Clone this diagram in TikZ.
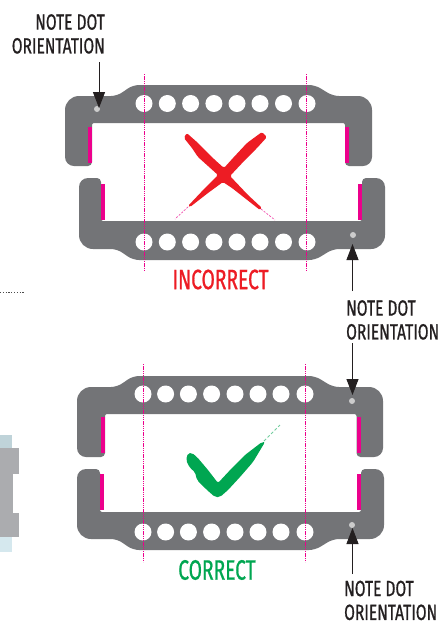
\documentclass[tikz,border=0pt]{standalone}
\usepackage{fontspec}
\usetikzlibrary{arrows.meta}
\newfontfamily\notefont[FakeStretch=0.706,FakeBold=0.7]{Fira Sans}
\newfontfamily\verdictfont[FakeStretch=0.685,FakeBold=0.7]{Fira Sans}
\definecolor{plate}{HTML}{737477}
\definecolor{badred}{HTML}{ED1C24}
\definecolor{goodgreen}{HTML}{00A651}
\definecolor{hotpink}{HTML}{EC008C}
\definecolor{ink}{HTML}{231F20}
\definecolor{fragtop}{HTML}{BFD3D9}
\definecolor{fraglow}{HTML}{D5E8EE}
\definecolor{fragband}{HTML}{ABACAF}
\tikzset{
  platefill/.style={fill=plate},
  hole/.style={fill=white,draw=none},
  pinkguide/.style={color=hotpink,line width=1.3pt,dash pattern=on 1.3pt off 0.9pt},
  pinkbar/.style={fill=hotpink,draw=none},
  notelabel/.style={inner sep=0pt,text=ink,text depth=0pt,font={\notefont\fontsize{22}{23.8}\selectfont}},
  verdict/.style={inner sep=0pt,font={\verdictfont\fontsize{28}{30}\selectfont}},
  pointer/.style={draw=ink,line width=1pt,-{Triangle[length=16pt,width=12pt,fill=ink]}},
}
% xl, xinnerleft, xinnerright, xr, yshoulder, ymiddle, yinner, yend
\newcommand{\platepath}[8]{
  \fill[platefill,rounded corners=2pt] (220,#7) -- (#2,#7) [rounded corners=4pt] -- (#2,#8) [rounded corners=9pt] -- (#1,#8)
    [rounded corners=14pt] -- (#1,#5) [rounded corners=6pt] -- (117,#5) -- (133,#6) -- (315,#6) -- (333,#5)
    [rounded corners=14pt] -- (#4,#5) [rounded corners=9pt] -- (#4,#8) [rounded corners=4pt] -- (#3,#8) [rounded corners=2pt] -- (#3,#7) -- cycle;
}
\begin{document}
\begin{tikzpicture}[x=1pt,y=-1pt]
\useasboundingbox (0,0) rectangle (440,625);
\fill[white] (0,0) rectangle (440,625);

% cropped neighbouring picture at the left edge
\fill[fragtop] (0,435) rectangle (12,448);
\fill[fraglow] (0,537) rectangle (12,552);
\fill[fragband] (0,448) rectangle (19,537);
\fill[white] (12.5,474) rectangle (19,513);
\draw[black!70,line width=1pt,dash pattern=on 1.2pt off 1.6pt] (0,292) -- (25,292);

% incorrect: plates
\platepath{65}{92}{345}{372}{96}{85}{123}{166}
\platepath{79}{101}{362}{385}{249}{260}{221}{178}
% correct: plates
\platepath{77}{105}{356.5}{383}{387}{376}{414}{457}
\platepath{77}{100}{361}{384}{539}{550}{512}{469}

% holes
\foreach \x in {144,167.3,190.6,213.9,237,260,283.5,307}{
  \fill[hole] (\x,103.5) circle (8.5);
  \fill[hole] (\x,242) circle (8.5);
}
\foreach \x in {143,165.6,188.4,211.6,235,258,281,305}{
  \fill[hole] (\x,394) circle (8.5);
  \fill[hole] (\x,532) circle (8.5);
}
% orientation dots
\foreach \x/\y in {97/109,353/235,352/401,352/525}{
  \fill[black!20] (\x,\y) circle (3);
}

% pink bars
\fill[pinkbar] (88,127) rectangle (92,163);
\fill[pinkbar] (345,127) rectangle (349,163);
\fill[pinkbar] (101,184) rectangle (105,220);
\fill[pinkbar] (358,184) rectangle (362,220);
\fill[pinkbar] (100.5,417) rectangle (105,453);
\fill[pinkbar] (356.5,417) rectangle (360.5,453);
\fill[pinkbar] (100,474) rectangle (104,510);
\fill[pinkbar] (357,474) rectangle (361,510);

% dotted guides
\draw[pinkguide] (144.5,74) -- (144.5,271);
\draw[pinkguide] (306.5,74) -- (306.5,271);
\draw[pinkguide] (143.5,364) -- (143.5,562);
\draw[pinkguide] (305.5,364) -- (305.5,562);

% red cross
\fill[badred,rounded corners=1.5pt] (186.7,133) -- (198,143) -- (215,160) -- (224,168) -- (233,158) -- (247,143) -- (262,132) -- (267,137) -- (257,148) -- (245,160) -- (230,176) -- (248,195) -- (262,208) -- (260,210) -- (232,188) -- (223,182) -- (208,193) -- (190,207) -- (188,206) -- (205,188) -- (218,175) -- (198,157) -- (192,148) -- (184,138) -- cycle;
\draw[hotpink!70,line width=0.7pt,dash pattern=on 2pt off 1.5pt] (188,207) -- (175,219);
\draw[hotpink!70,line width=0.7pt,dash pattern=on 2pt off 1.5pt] (261,209) -- (275,220);

% green check
\fill[goodgreen,rounded corners=2pt] (188,453) -- (186,460) -- (190,468) -- (195,472) -- (197,480) -- (207,490) -- (215,497) -- (220,497) -- (228,490) -- (240,477) -- (253,462) -- (265,442) -- (262,442) -- (245,455) -- (232,468) -- (218,483) -- (208,470) -- (197,457) -- (192,453) -- cycle;
\draw[goodgreen!55,line width=0.8pt,dash pattern=on 3pt off 2pt] (264,441) -- (280,425);

% labels
\node[notelabel,align=right,anchor=north east] (noteA) at (105,14) {NOTE DOT\\ORIENTATION};
\node[notelabel,align=left,anchor=north west] (noteB) at (346,300) {NOTE DOT\\ORIENTATION};
\node[notelabel,align=left,anchor=north west] (noteC) at (344,580.5) {NOTE DOT\\ORIENTATION};
\node[verdict,text=badred,anchor=center] (wrong) at (220.5,279.5) {INCORRECT};
\node[verdict,text=goodgreen,anchor=center] (right) at (217,570) {CORRECT};

% pointers
\coordinate (dotA) at (99,108);
\coordinate (dotB) at (352.5,244);
\coordinate (dotC) at (352.5,395);
\coordinate (dotD) at (352.5,528);
\coordinate (tailA) at (99,62);
\coordinate (tailB) at (352.5,291);
\coordinate (tailC) at (352.5,343);
\coordinate (tailD) at (352.5,574);
\draw[pointer] (tailA) -- (dotA);
\draw[pointer] (tailB) -- (dotB);
\draw[pointer] (tailC) -- (dotC);
\draw[pointer] (tailD) -- (dotD);
\end{tikzpicture}
\end{document}
